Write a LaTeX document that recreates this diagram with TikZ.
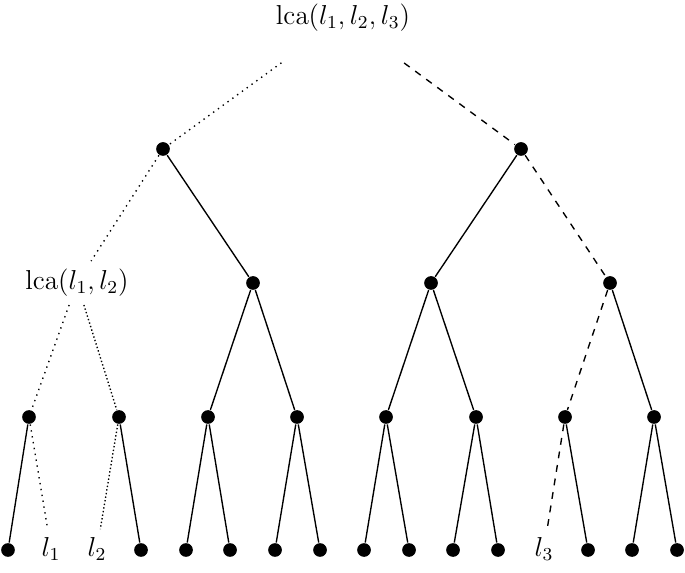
\documentclass[tikz,border=0pt]{standalone}
\begin{document}
\begin{tikzpicture}[x=0.0154cm, y=-0.0154cm, font=\large, semithick,
        dot/.style={circle, fill=black, inner sep=0pt, minimum size=6pt},
        from root/.style={shorten <=17pt}]
        \useasboundingbox (0,0) rectangle (685,573);

        % top and inner vertices
        \node (r) at (343,18) {$\mathrm{lca}(l_1, l_2, l_3)$};
        \node[dot] (a) at (163,149) {};
        \node[dot] (b) at (521,149) {};
        \node (aa) at (77,283) {$\mathrm{lca}(l_1, l_2)$};
        \node[dot] (ab) at (253,283) {};
        \node[dot] (ba) at (431,283) {};
        \node[dot] (bb) at (610,283) {};
        \node[dot] (aaa) at (29,417) {};
        \node[dot] (aab) at (119,417) {};
        \node[dot] (aba) at (208,417) {};
        \node[dot] (abb) at (297,417) {};
        \node[dot] (baa) at (386,417) {};
        \node[dot] (bab) at (476,417) {};
        \node[dot] (bba) at (565,417) {};
        \node[dot] (bbb) at (654,417) {};

        % leaves
        \node[dot] (x1) at (8,550) {};
        \node (x2) at (51,549) {$l_1$};
        \node (x3) at (97,549) {$l_2$};
        \node[dot] (x4) at (141,550) {};
        \node[dot] (x5) at (186,550) {};
        \node[dot] (x6) at (230,550) {};
        \node[dot] (x7) at (275,550) {};
        \node[dot] (x8) at (320,550) {};
        \node[dot] (x9) at (364,550) {};
        \node[dot] (x10) at (409,550) {};
        \node[dot] (x11) at (453,550) {};
        \node[dot] (x12) at (498,550) {};
        \node (x13) at (544,549) {$l_3$};
        \node[dot] (x14) at (588,550) {};
        \node[dot] (x15) at (632,550) {};
        \node[dot] (x16) at (677,550) {};

        \draw[dotted, from root] (r) -- (a);
        \draw[dashed, from root] (r) -- (b);
        \draw[dotted] (a) -- (aa);
        \draw (a) -- (ab);
        \draw (b) -- (ba);
        \draw[dashed] (b) -- (bb);
        \draw[dotted] (aa) -- (aaa);
        \draw[densely dotted] (aa) -- (aab);
        \draw (ab) -- (aba);
        \draw (ab) -- (abb);
        \draw (ba) -- (baa);
        \draw (ba) -- (bab);
        \draw[dashed] (bb) -- (bba);
        \draw (bb) -- (bbb);
        \draw (aaa) -- (x1);
        \draw[dotted] (aaa) -- (x2);
        \draw[densely dotted] (aab) -- (x3);
        \draw (aab) -- (x4);
        \draw (aba) -- (x5);
        \draw (aba) -- (x6);
        \draw (abb) -- (x7);
        \draw (abb) -- (x8);
        \draw (baa) -- (x9);
        \draw (baa) -- (x10);
        \draw (bab) -- (x11);
        \draw (bab) -- (x12);
        \draw[dashed] (bba) -- (x13);
        \draw (bba) -- (x14);
        \draw (bbb) -- (x15);
        \draw (bbb) -- (x16);
    \end{tikzpicture}
\end{document}
